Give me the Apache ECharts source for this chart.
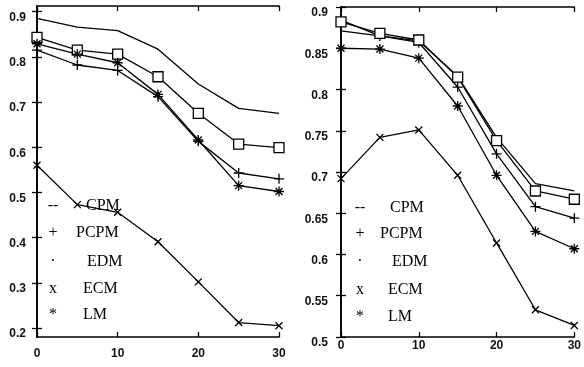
<!DOCTYPE html>
<html>
<head>
<meta charset="utf-8">
<script src="https://cdn.jsdelivr.net/npm/echarts@6/dist/echarts.min.js"></script>
<style>
html,body{margin:0;padding:0;background:#fff;}
#chart{width:584px;height:367px;}
</style>
</head>
<body>
<div id="chart"></div>
<script>
const xValues = [0, 5, 10, 15, 20, 25, 30];
const xTicks = [0, 10, 20, 30];
const seriesNames = ['CPM', 'PCPM', 'EDM', 'ECM', 'LM'];
const legendSymbols = ['--', '+', '·', 'x', '*'];

const leftYTicks = [0.2, 0.3, 0.4, 0.5, 0.6, 0.7, 0.8, 0.9];
const leftCPM  = [0.885, 0.866, 0.858, 0.817, 0.740, 0.686, 0.675];
const leftPCPM = [0.815, 0.782, 0.770, 0.712, 0.613, 0.543, 0.530];
const leftEDM  = [0.843, 0.815, 0.806, 0.756, 0.675, 0.607, 0.599];
const leftECM  = [0.560, 0.473, 0.456, 0.391, 0.302, 0.212, 0.205];
const leftLM   = [0.829, 0.806, 0.787, 0.717, 0.616, 0.515, 0.502];

const rightYTicks = [0.5, 0.55, 0.6, 0.65, 0.7, 0.75, 0.8, 0.85, 0.9];
const rightCPM  = [0.871, 0.865, 0.859, 0.816, 0.742, 0.686, 0.677];
const rightPCPM = [0.884, 0.865, 0.857, 0.803, 0.722, 0.658, 0.644];
const rightEDM  = [0.882, 0.868, 0.860, 0.815, 0.738, 0.677, 0.667];
const rightECM  = [0.692, 0.742, 0.751, 0.696, 0.614, 0.533, 0.514];
const rightLM   = [0.850, 0.849, 0.838, 0.780, 0.696, 0.628, 0.607];

const chart = echarts.init(document.getElementById('chart'), null, {renderer: 'canvas'});

const symbolFor = {
  CPM: {symbol: 'none', size: 0},
  PCPM: {symbol: 'path://M0,5L10,5M5,0L5,10', size: 10},
  EDM: {symbol: 'rect', size: 10, fill: '#fff'},
  ECM: {symbol: 'path://M0,0L8,8M0,8L8,0', size: 7},
  LM: {symbol: 'path://M0,5L10,5M5,0L5,10M1.5,1.5L8.5,8.5M1.5,8.5L8.5,1.5', size: 10}
};

function pairs(vals) { return xValues.map((x, i) => [x, vals[i]]); }

function makeSeries(name, vals, gi) {
  const s = symbolFor[name];
  return {
    type: 'line', name: name,
    xAxisIndex: gi * 2, yAxisIndex: gi * 2,
    data: pairs(vals),
    symbol: s.symbol, symbolSize: s.size,
    showSymbol: s.symbol !== 'none',
    clip: false,
    lineStyle: {color: '#000', width: 1.3},
    itemStyle: {color: s.fill || 'rgba(0,0,0,0)', borderColor: '#000', borderWidth: 1.3},
    emphasis: {disabled: true},
    z: 3
  };
}

const axisLine = {show: true, lineStyle: {color: '#000', width: 1.6}};
const labelFont = {fontFamily: '"Liberation Sans", Arial, sans-serif', fontSize: 12, fontWeight: 'bold', color: '#111'};

function xAxes(gi, labelMargin) {
  return [
    {gridIndex: gi, type: 'value', min: 0, max: 30, position: 'bottom',
     axisLine: axisLine, splitLine: {show: false},
     axisTick: {show: true, inside: true, length: 5, customValues: xTicks, lineStyle: {color: '#000', width: 1.3}},
     axisLabel: Object.assign({show: true, margin: labelMargin, customValues: xTicks}, labelFont)},
    {gridIndex: gi, type: 'value', min: 0, max: 30, position: 'top',
     axisLine: axisLine, splitLine: {show: false},
     axisTick: {show: true, inside: true, length: 5, customValues: xTicks, lineStyle: {color: '#000', width: 1.3}},
     axisLabel: {show: false}}
  ];
}
function yAxes(gi, min, max, ticks, margin) {
  return [
    {gridIndex: gi, type: 'value', min: min, max: max, position: 'left',
     axisLine: axisLine, splitLine: {show: false},
     axisTick: {show: true, inside: true, length: 5, customValues: ticks, lineStyle: {color: '#000', width: 1.3}},
     axisLabel: Object.assign({show: true, margin: margin, customValues: ticks, verticalAlign: 'top',
       showMinLabel: true, showMaxLabel: true}, labelFont)},
    {gridIndex: gi, type: 'value', min: min, max: max, position: 'right',
     axisLine: axisLine, splitLine: {show: false},
     axisTick: {show: true, inside: true, length: 5, customValues: ticks, lineStyle: {color: '#000', width: 1.3}},
     axisLabel: {show: false}}
  ];
}

const leftVals = [leftCPM, leftPCPM, leftEDM, leftECM, leftLM];
const rightVals = [rightCPM, rightPCPM, rightEDM, rightECM, rightLM];

const series = [];
seriesNames.forEach((n, i) => series.push(makeSeries(n, leftVals[i], 0)));
seriesNames.forEach((n, i) => series.push(makeSeries(n, rightVals[i], 1)));

const legendFont = '16px "Liberation Serif", "Times New Roman", serif';
const legendLayout = [
  {symX: 53, nameX: [86, 76, 87, 83, 83], y: [206, 233, 262, 289, 315]},
  {symX: 360, nameX: [390, 380, 392, 388, 388], y: [208, 234, 262, 290, 317]}
];
const graphics = [];
legendLayout.forEach(L => {
  seriesNames.forEach((n, i) => {
    graphics.push({type: 'text', x: L.symX, y: L.y[i], z: 10,
      style: {text: legendSymbols[i], font: legendFont, fill: '#000', textAlign: 'center', textVerticalAlign: 'middle'}});
    graphics.push({type: 'text', x: L.nameX[i], y: L.y[i], z: 10,
      style: {text: n, font: legendFont, fill: '#000', textAlign: 'left', textVerticalAlign: 'middle'}});
  });
});

chart.setOption({
  animation: false,
  backgroundColor: '#fff',
  grid: [
    {left: 37, top: 6, width: 242, height: 331},
    {left: 341, top: 7, width: 241, height: 330}
  ],
  xAxis: [].concat(xAxes(0, 11), xAxes(1, 3)),
  yAxis: [].concat(yAxes(0, 0.18, 0.9126, leftYTicks, 11), yAxes(1, 0.5, 0.9, rightYTicks, 13)),
  series: series,
  graphic: graphics
});
</script>
</body>
</html>
